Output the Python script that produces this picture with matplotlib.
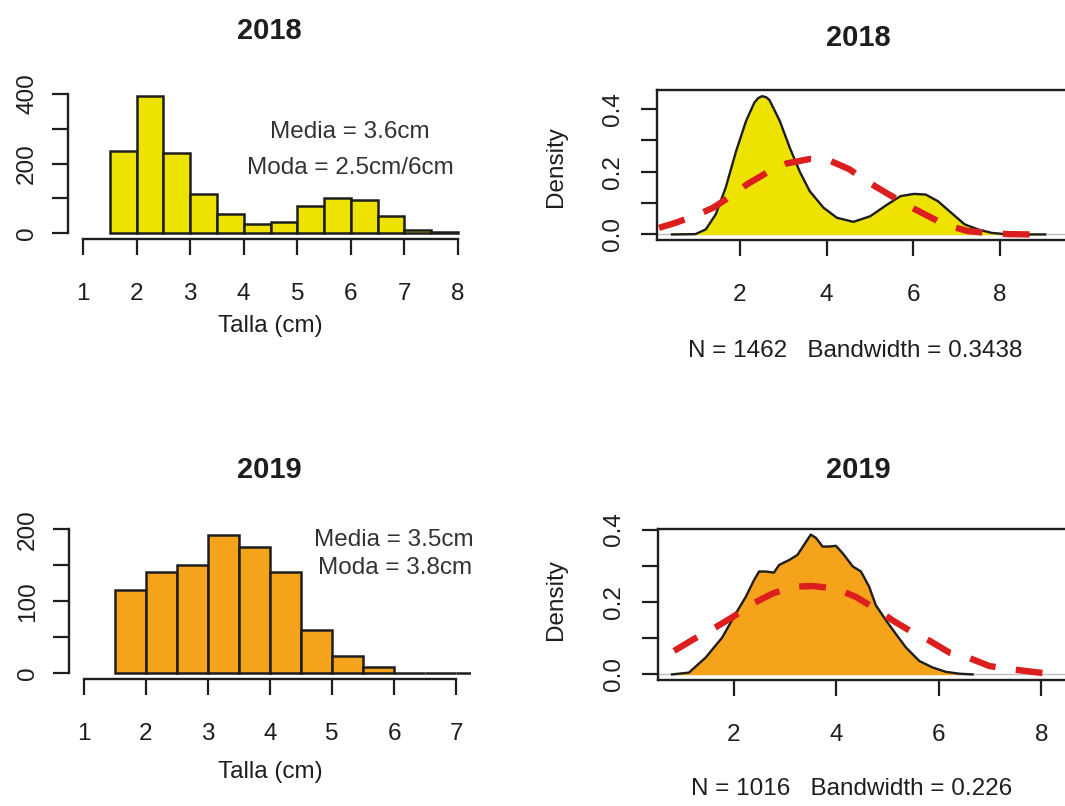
import numpy as np
import matplotlib
matplotlib.use('Agg')
import matplotlib.pyplot as plt

plt.rcParams['font.family'] = ['Liberation Sans', 'DejaVu Sans']

# Histogram counts (bins of 0.5 cm)
breaks_2018 = [1.5, 2.0, 2.5, 3.0, 3.5, 4.0, 4.5, 5.0, 5.5, 6.0, 6.5, 7.0, 7.5, 8.0]
counts_2018 = [237, 395, 231, 113, 56, 27, 32, 78, 101, 95, 50, 9, 3]
breaks_2019 = [1.5, 2.0, 2.5, 3.0, 3.5, 4.0, 4.5, 5.0, 5.5, 6.0, 6.5, 7.0, 7.5]
counts_2019 = [116, 140, 150, 192, 175, 140, 60, 24, 8, 0, 0, 0]

# Kernel density estimates
kde_x_2018 = [0.43, 0.97, 1.21, 1.44, 1.67, 1.91, 2.14, 2.33, 2.42, 2.51, 2.60, 2.68, 2.92,
              3.15, 3.38, 3.61, 3.93, 4.24, 4.62, 5.01, 5.40, 5.71, 6.02, 6.29, 6.57,
              6.88, 7.19, 7.50, 7.81, 8.20, 9.05]
kde_y_2018 = [0.0, 0.001, 0.016, 0.064, 0.149, 0.265, 0.361, 0.419, 0.434, 0.440, 0.437, 0.428, 0.361,
              0.276, 0.200, 0.138, 0.085, 0.053, 0.040, 0.058, 0.095, 0.122, 0.129, 0.127, 0.106,
              0.069, 0.032, 0.016, 0.005, 0.0, 0.0]
kde_x_2019 = [0.79, 1.12, 1.45, 1.77, 2.03, 2.23, 2.39, 2.49, 2.62, 2.78, 2.88, 3.08, 3.24,
              3.37, 3.50, 3.60, 3.73, 3.86, 3.99, 4.12, 4.32, 4.48, 4.64, 4.77, 4.97, 5.16,
              5.36, 5.62, 5.88, 6.14, 6.40, 6.66]
kde_y_2019 = [0.0, 0.005, 0.047, 0.102, 0.167, 0.214, 0.260, 0.284, 0.284, 0.281, 0.302, 0.316, 0.330,
              0.358, 0.386, 0.377, 0.353, 0.353, 0.355, 0.335, 0.298, 0.284, 0.242, 0.191, 0.149, 0.112,
              0.074, 0.037, 0.019, 0.007, 0.002, 0.0]

# Normal reference curves
norm_x_2018 = [0.13, 0.51, 0.96, 1.38, 1.80, 2.17, 2.70, 3.08, 3.61, 4.07, 4.52, 4.98, 5.43,
               5.89, 6.34, 6.72, 7.25, 7.70, 8.20, 8.70]
norm_y_2018 = [0.021, 0.037, 0.059, 0.085, 0.123, 0.160, 0.203, 0.226, 0.240, 0.235, 0.208, 0.165, 0.128,
               0.091, 0.059, 0.032, 0.011, 0.005, 0.001, 0.0]
norm_x_2019 = [0.83, 1.22, 1.64, 1.97, 2.36, 2.75, 3.14, 3.53, 3.99, 4.38, 4.77, 5.10, 5.49,
               5.82, 6.21, 6.60, 6.99, 7.32, 7.84, 8.26]
norm_y_2019 = [0.065, 0.098, 0.130, 0.158, 0.195, 0.223, 0.242, 0.244, 0.237, 0.214, 0.181, 0.149, 0.116,
               0.093, 0.060, 0.045, 0.023, 0.016, 0.007, 0.0]

years = ['2018', '2019']
n_obs = [1462, 1016]
bandwidths = ['0.3438', '0.226']
media = ['3.6cm', '3.5cm']
moda = ['2.5cm/6cm', '3.8cm']

YELLOW = '#EEE200'
ORANGE = '#F5A31A'
RED = '#DC1E1E'
INK = '#1E1E1E'

W, H = 1065, 806
fig = plt.figure(figsize=(W / 100, H / 100), dpi=100)


def axes_px(left, top, right, bottom):
    return fig.add_axes([left / W, 1 - bottom / H, (right - left) / W, (bottom - top) / H])


def text_px(x, y, s, **kw):
    fig.text(x / W, 1 - y / H, s, ha='center', va='center', **kw)


def style_ticks(ax, pad_x, pad_y):
    ax.tick_params(direction='out', length=11.5, width=1.6, colors=INK, labelsize=17.5)
    ax.tick_params(axis='x', pad=pad_x)
    ax.tick_params(axis='y', pad=pad_y)
    for lab in ax.get_yticklabels():
        lab.set_rotation(90)
        lab.set_va('center')


def histogram(ax, breaks, counts, color, xticks, yticks, ylabels):
    left = breaks[:-1]
    ax.bar(left, counts, width=0.5, align='edge', color=color, edgecolor=INK, linewidth=1.8)
    for side in ['top', 'right']:
        ax.spines[side].set_visible(False)
    for side in ['left', 'bottom']:
        ax.spines[side].set_linewidth(1.7)
        ax.spines[side].set_color(INK)
    ax.spines['bottom'].set_bounds(xticks[0], xticks[-1])
    ax.spines['left'].set_bounds(yticks[0], yticks[-1])
    ax.set_xticks(xticks)
    ax.set_yticks(yticks)
    ax.set_yticklabels(ylabels)
    style_ticks(ax, 20, 10)


def density(ax, kx, ky, nx, ny, color):
    ax.axhline(0, color='#BEBEBE', linewidth=1.0, zorder=1)
    ax.fill(kx, ky, color=color, zorder=2)
    ax.plot(kx, ky, color=INK, linewidth=1.7, zorder=3, solid_joinstyle='round')
    ax.plot(nx, ny, color=RED, linewidth=4.6, dashes=(4.2, 3.2), zorder=4)
    for side in ax.spines:
        ax.spines[side].set_linewidth(1.7)
        ax.spines[side].set_color(INK)
    ax.set_xticks([2, 4, 6, 8])
    ax.set_yticks([0.0, 0.1, 0.2, 0.3, 0.4])
    ax.set_yticklabels(['0.0', '', '0.2', '', '0.4'])
    style_ticks(ax, 20, 12)


# Top left: 2018 histogram
ax1 = axes_px(68, 88.4, 473, 238.9)
ax1.set_xlim(0.72, 8.28)
ax1.set_ylim(-16, 416)
histogram(ax1, breaks_2018, counts_2018, YELLOW, [1, 2, 3, 4, 5, 6, 7, 8],
          [0, 100, 200, 300, 400], ['0', '', '200', '', '400'])
text_px(350, 132, 'Media = ' + media[0], fontsize=17.5, color='#333333')
text_px(350, 168, 'Moda = ' + moda[0], fontsize=17.5, color='#333333')

# Bottom left: 2019 histogram
ax3 = axes_px(69, 523.5, 471, 679)
ax3.set_xlim(0.76, 7.24)
ax3.set_ylim(-8, 208)
histogram(ax3, breaks_2019, counts_2019, ORANGE, [1, 2, 3, 4, 5, 6, 7],
          [0, 50, 100, 150, 200], ['0', '', '100', '', '200'])
text_px(394, 540, 'Media = ' + media[1], fontsize=17.5, color='#333333')
text_px(395, 568, 'Moda = ' + moda[1], fontsize=17.5, color='#333333')

# Top right: 2018 density
ax2 = axes_px(657, 90, 1072, 240)
ax2.set_xlim(0.083, 9.67)
ax2.set_ylim(-0.0177, 0.4597)
density(ax2, kde_x_2018, kde_y_2018, norm_x_2018, norm_y_2018, YELLOW)

# Bottom right: 2019 density
ax4 = axes_px(658, 529, 1075, 680)
ax4.set_xlim(0.516, 8.66)
ax4.set_ylim(-0.0154, 0.4014)
density(ax4, kde_x_2019, kde_y_2019, norm_x_2019, norm_y_2019, ORANGE)

# Titles and axis labels
text_px(269, 31, years[0], fontsize=21, fontweight='bold', color=INK)
text_px(858, 38, years[0], fontsize=21, fontweight='bold', color=INK)
text_px(269, 470, years[1], fontsize=21, fontweight='bold', color=INK)
text_px(858, 470, years[1], fontsize=21, fontweight='bold', color=INK)

text_px(270, 326, 'Talla (cm)', fontsize=17.5, color=INK)
text_px(270, 772, 'Talla (cm)', fontsize=17.5, color=INK)
text_px(855, 351, f'N = {n_obs[0]}   Bandwidth = {bandwidths[0]}', fontsize=17.5, color=INK)
text_px(852, 789, f'N = {n_obs[1]}   Bandwidth = {bandwidths[1]}', fontsize=17.5, color=INK)
text_px(556, 167, 'Density', fontsize=17.5, color=INK, rotation=90)
text_px(556, 600, 'Density', fontsize=17.5, color=INK, rotation=90)

fig.savefig('out.png', dpi=100)
